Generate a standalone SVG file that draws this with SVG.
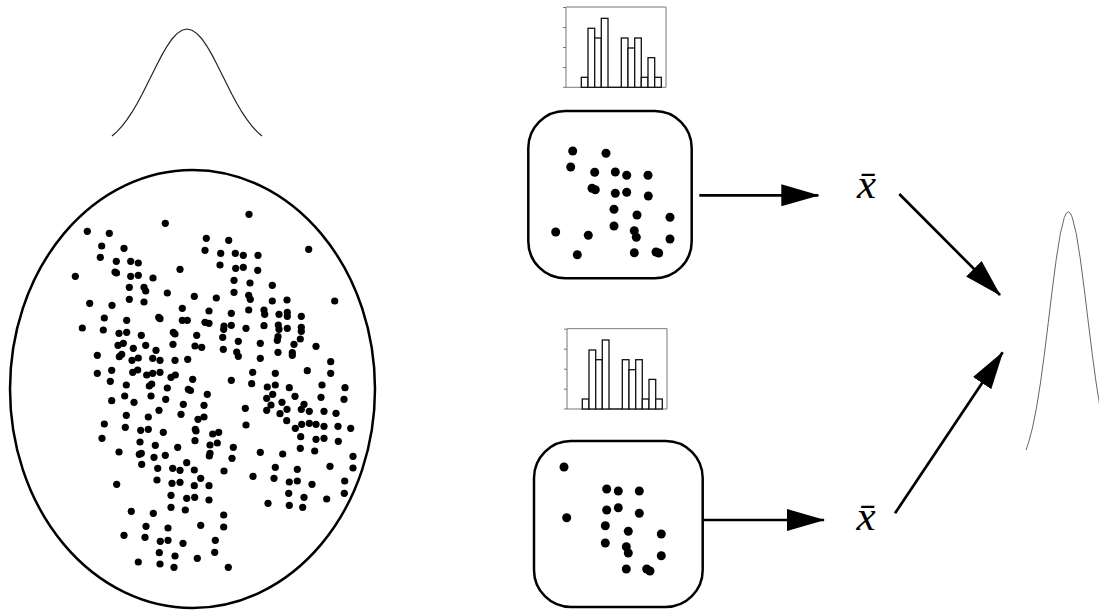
<svg xmlns="http://www.w3.org/2000/svg" xmlns:xlink="http://www.w3.org/1999/xlink" width="1099" height="612" viewBox="0 0 1099 612">
<style>
.outline{fill:none;stroke:#000;stroke-width:2.5}
.curve{fill:none;stroke:#222;stroke-width:1.2}
.curve2{fill:none;stroke:#666;stroke-width:1}
.pd circle{fill:#000}
.sd circle{fill:#000}
.bar{fill:#fff;stroke:#111;stroke-width:1.3}
.axis{fill:none;stroke:#777;stroke-width:1}
.conn{fill:none;stroke:#000;stroke-width:2.7;marker-end:url(#ah)}
.xbar{font-family:"Liberation Serif","Times New Roman",serif;font-style:italic;font-size:43px;fill:#000}
</style>
<defs>
<marker id="ah" markerUnits="userSpaceOnUse" markerWidth="38" markerHeight="22" viewBox="0 0 38 22" refX="37" refY="11" orient="auto"><path d="M0,0 L38,11 L0,22 Z" fill="#000"/></marker>
<g id="histo">
<path class="axis" d="M566,7 H666 V87.3 H566 Z"/>
<path class="axis" d="M563,7.5 H566 M563,27.5 H566 M563,47.5 H566 M563,67.5 H566 M563,87.3 H566"/>
<rect class="bar" x="581.3" y="77.3" width="6.7" height="10"/>
<rect class="bar" x="588" y="28.3" width="6.7" height="59"/>
<rect class="bar" x="594.7" y="38" width="6.6" height="49.3"/>
<rect class="bar" x="601.3" y="18.3" width="6.7" height="69"/>
<path d="M608,87.3 H621.3" stroke="#111" stroke-width="1.3"/>
<rect class="bar" x="621.3" y="38" width="6.7" height="49.3"/>
<rect class="bar" x="628" y="48" width="6.7" height="39.3"/>
<rect class="bar" x="634.7" y="38" width="6.6" height="49.3"/>
<rect class="bar" x="641.3" y="77.3" width="6.7" height="10"/>
<rect class="bar" x="648" y="57.7" width="6.7" height="29.6"/>
<rect class="bar" x="654.7" y="77.3" width="6.6" height="10"/>
</g>
</defs>
<rect width="1099" height="612" fill="#fff"/>

<g id="population-curve">
<polyline class="curve" points="112,136 117,131.6 122,126.1 127,119.7 132,112.2 137,103.8 142,94.5 147,84.6 152,74.5 157,64.4 162,54.9 167,46.3 172,39 177,33.6 182,30.2 187,29 192,30.2 197,33.6 202,39 207,46.3 212,54.9 217,64.4 222,74.5 227,84.6 232,94.5 237,103.8 242,112.2 247,119.7 252,126.1 257,131.6 262,136"/>
</g>

<g id="population">
<ellipse class="outline" cx="192.5" cy="389" rx="182.5" ry="219"/>
<g class="pd">
<circle cx="165.3" cy="223.3" r="3.6"/><circle cx="87.3" cy="231.3" r="3.6"/><circle cx="109.3" cy="233.3" r="3.6"/><circle cx="206.3" cy="238.3" r="3.6"/><circle cx="101.7" cy="246" r="3.6"/><circle cx="124" cy="248.3" r="3.6"/><circle cx="205" cy="250.3" r="3.6"/><circle cx="100.3" cy="257.3" r="3.6"/><circle cx="116.3" cy="261.3" r="3.6"/><circle cx="130.7" cy="261.3" r="3.6"/><circle cx="138.3" cy="263" r="3.6"/><circle cx="115" cy="272" r="3.6"/><circle cx="116.5" cy="273" r="3.6"/><circle cx="180" cy="269.3" r="3.6"/><circle cx="75.3" cy="276.3" r="3.6"/><circle cx="130.7" cy="276.3" r="3.6"/><circle cx="138.3" cy="275.3" r="3.6"/><circle cx="153" cy="278" r="3.6"/><circle cx="129.3" cy="287.3" r="3.6"/><circle cx="144" cy="287.3" r="3.6"/><circle cx="145.7" cy="291" r="3.6"/><circle cx="167.3" cy="293" r="3.6"/><circle cx="194.3" cy="296.3" r="3.6"/><circle cx="216.3" cy="298" r="3.6"/><circle cx="129.3" cy="299.3" r="3.6"/><circle cx="144" cy="302" r="3.6"/><circle cx="89.7" cy="303.3" r="3.6"/><circle cx="112" cy="305.3" r="3.6"/><circle cx="182.3" cy="308.3" r="3.6"/><circle cx="209" cy="311" r="3.6"/><circle cx="104.3" cy="318" r="3.6"/><circle cx="126.7" cy="320.3" r="3.6"/><circle cx="158.7" cy="317.3" r="3.6"/><circle cx="160" cy="318.7" r="3.6"/><circle cx="182.3" cy="320.3" r="3.6"/><circle cx="187.3" cy="320.3" r="3.6"/><circle cx="205" cy="322.3" r="3.6"/><circle cx="209" cy="323.3" r="3.6"/><circle cx="82.3" cy="328" r="3.6"/><circle cx="103.3" cy="330" r="3.6"/><circle cx="119" cy="333.3" r="3.6"/><circle cx="126.7" cy="332.3" r="3.6"/><circle cx="141.3" cy="335.3" r="3.6"/><circle cx="173.3" cy="332.3" r="3.6"/><circle cx="175" cy="334" r="3.6"/><circle cx="196.7" cy="335.3" r="3.6"/><circle cx="118" cy="345.3" r="3.6"/><circle cx="123.3" cy="343.3" r="3.6"/><circle cx="133.3" cy="348.3" r="3.6"/><circle cx="145.7" cy="345.3" r="3.6"/><circle cx="173" cy="344.3" r="3.6"/><circle cx="195" cy="346" r="3.6"/><circle cx="201.7" cy="347.3" r="3.6"/><circle cx="156" cy="350.3" r="3.6"/><circle cx="97.3" cy="355.3" r="3.6"/><circle cx="119.3" cy="356.7" r="3.6"/><circle cx="121.7" cy="354.3" r="3.6"/><circle cx="132" cy="360.3" r="3.6"/><circle cx="138.3" cy="358" r="3.6"/><circle cx="152.7" cy="358.3" r="3.6"/><circle cx="160" cy="360.3" r="3.6"/><circle cx="175" cy="360.3" r="3.6"/><circle cx="187.7" cy="359.3" r="3.6"/><circle cx="97.3" cy="373.3" r="3.6"/><circle cx="111.7" cy="370.3" r="3.6"/><circle cx="132.7" cy="372.3" r="3.6"/><circle cx="137.7" cy="370" r="3.6"/><circle cx="146.7" cy="375" r="3.6"/><circle cx="152.7" cy="373.3" r="3.6"/><circle cx="160" cy="372.3" r="3.6"/><circle cx="171" cy="377.3" r="3.6"/><circle cx="175.3" cy="375" r="3.6"/><circle cx="192.7" cy="379.3" r="3.6"/><circle cx="110.3" cy="381.3" r="3.6"/><circle cx="126.3" cy="385" r="3.6"/><circle cx="149.3" cy="386" r="3.6"/><circle cx="151.7" cy="384" r="3.6"/><circle cx="167.3" cy="388" r="3.6"/><circle cx="188.3" cy="389.3" r="3.6"/><circle cx="190.5" cy="390.5" r="3.6"/>
<circle cx="249" cy="214.3" r="3.6"/><circle cx="228.7" cy="240.3" r="3.6"/><circle cx="220.7" cy="253.3" r="3.6"/><circle cx="235.3" cy="253.3" r="3.6"/><circle cx="243.3" cy="255.3" r="3.6"/><circle cx="258" cy="255.3" r="3.6"/><circle cx="308.7" cy="249.3" r="3.6"/><circle cx="220" cy="265" r="3.6"/><circle cx="235.7" cy="268.3" r="3.6"/><circle cx="243.3" cy="267.3" r="3.6"/><circle cx="257.7" cy="270.3" r="3.6"/><circle cx="234" cy="280.3" r="3.6"/><circle cx="250" cy="283" r="3.6"/><circle cx="272.3" cy="285.3" r="3.6"/><circle cx="234" cy="292.3" r="3.6"/><circle cx="248.7" cy="295.3" r="3.6"/><circle cx="250.3" cy="299.3" r="3.6"/><circle cx="272.3" cy="301" r="3.6"/><circle cx="287" cy="300" r="3.6"/><circle cx="334.7" cy="301" r="3.6"/><circle cx="231.3" cy="313.3" r="3.6"/><circle cx="248.7" cy="310" r="3.6"/><circle cx="264" cy="310" r="3.6"/><circle cx="264.7" cy="314.3" r="3.6"/><circle cx="279" cy="314.3" r="3.6"/><circle cx="287.3" cy="312.3" r="3.6"/><circle cx="287.3" cy="316.3" r="3.6"/><circle cx="301.3" cy="316.3" r="3.6"/><circle cx="224" cy="326" r="3.6"/><circle cx="223.7" cy="329.3" r="3.6"/><circle cx="231.3" cy="325.3" r="3.6"/><circle cx="246" cy="328.3" r="3.6"/><circle cx="264" cy="325.7" r="3.6"/><circle cx="278.3" cy="325" r="3.6"/><circle cx="279" cy="329.3" r="3.6"/><circle cx="287.3" cy="328.3" r="3.6"/><circle cx="301.3" cy="327.3" r="3.6"/><circle cx="301.3" cy="331.3" r="3.6"/><circle cx="222.7" cy="337.3" r="3.6"/><circle cx="238.3" cy="341.3" r="3.6"/><circle cx="260.3" cy="343.3" r="3.6"/><circle cx="278" cy="336.7" r="3.6"/><circle cx="277.3" cy="340.3" r="3.6"/><circle cx="300.3" cy="339" r="3.6"/><circle cx="294" cy="344.3" r="3.6"/><circle cx="316" cy="346.3" r="3.6"/><circle cx="223.3" cy="349.3" r="3.6"/><circle cx="236.7" cy="352" r="3.6"/><circle cx="238.3" cy="356.3" r="3.6"/><circle cx="278" cy="352.3" r="3.6"/><circle cx="292.3" cy="352.7" r="3.6"/><circle cx="292.3" cy="355.3" r="3.6"/><circle cx="260.3" cy="358.3" r="3.6"/><circle cx="330.7" cy="361.7" r="3.6"/><circle cx="252.7" cy="372.3" r="3.6"/><circle cx="275.3" cy="373.3" r="3.6"/><circle cx="307.3" cy="370.7" r="3.6"/><circle cx="330.7" cy="373.3" r="3.6"/><circle cx="231.3" cy="380.3" r="3.6"/><circle cx="251.7" cy="383.7" r="3.6"/><circle cx="267.3" cy="387" r="3.6"/><circle cx="275.3" cy="385" r="3.6"/><circle cx="289.3" cy="387.7" r="3.6"/><circle cx="322" cy="385" r="3.6"/><circle cx="345" cy="387.7" r="3.6"/>
<circle cx="111.7" cy="400.7" r="3.6"/><circle cx="124.7" cy="396" r="3.6"/><circle cx="134" cy="402.3" r="3.6"/><circle cx="151" cy="396" r="3.6"/><circle cx="165.7" cy="399.3" r="3.6"/><circle cx="207.3" cy="394.3" r="3.6"/><circle cx="183.3" cy="404.3" r="3.6"/><circle cx="204" cy="405.3" r="3.6"/><circle cx="159" cy="410.3" r="3.6"/><circle cx="126.3" cy="415.3" r="3.6"/><circle cx="148.3" cy="417" r="3.6"/><circle cx="181" cy="414.3" r="3.6"/><circle cx="198" cy="419.3" r="3.6"/><circle cx="204" cy="417" r="3.6"/><circle cx="104.3" cy="424" r="3.6"/><circle cx="125.3" cy="427.3" r="3.6"/><circle cx="140.7" cy="430.3" r="3.6"/><circle cx="148.3" cy="429.3" r="3.6"/><circle cx="163.3" cy="432.3" r="3.6"/><circle cx="195.3" cy="429.3" r="3.6"/><circle cx="196" cy="431" r="3.6"/><circle cx="212.7" cy="434" r="3.6"/><circle cx="218.7" cy="432.3" r="3.6"/><circle cx="102" cy="438.3" r="3.6"/><circle cx="140" cy="442" r="3.6"/><circle cx="155.3" cy="445.3" r="3.6"/><circle cx="195" cy="440.7" r="3.6"/><circle cx="210" cy="445" r="3.6"/><circle cx="217.3" cy="443" r="3.6"/><circle cx="119" cy="452" r="3.6"/><circle cx="141.3" cy="453.3" r="3.6"/><circle cx="139.3" cy="454.3" r="3.6"/><circle cx="154" cy="457.3" r="3.6"/><circle cx="165.3" cy="455.3" r="3.6"/><circle cx="177.7" cy="447.3" r="3.6"/><circle cx="209.3" cy="456" r="3.6"/><circle cx="210" cy="453.3" r="3.6"/><circle cx="141.7" cy="464.3" r="3.6"/><circle cx="157.7" cy="468.3" r="3.6"/><circle cx="172.7" cy="468.3" r="3.6"/><circle cx="180" cy="470.3" r="3.6"/><circle cx="186.7" cy="462.7" r="3.6"/><circle cx="194.3" cy="470" r="3.6"/><circle cx="224" cy="471" r="3.6"/><circle cx="157" cy="480" r="3.6"/><circle cx="172" cy="483.3" r="3.6"/><circle cx="180" cy="482.3" r="3.6"/><circle cx="200.7" cy="478.3" r="3.6"/><circle cx="194.3" cy="485.7" r="3.6"/><circle cx="209" cy="485.7" r="3.6"/><circle cx="116.7" cy="484.3" r="3.6"/><circle cx="171" cy="495.3" r="3.6"/><circle cx="186.7" cy="498.3" r="3.6"/><circle cx="194.7" cy="497.3" r="3.6"/><circle cx="209" cy="500" r="3.6"/><circle cx="171" cy="507.3" r="3.6"/><circle cx="185.3" cy="510" r="3.6"/><circle cx="131.3" cy="511.3" r="3.6"/><circle cx="153.3" cy="513.3" r="3.6"/><circle cx="223.7" cy="515" r="3.6"/><circle cx="146" cy="526.3" r="3.6"/><circle cx="168" cy="528" r="3.6"/><circle cx="200.7" cy="525.3" r="3.6"/><circle cx="223.7" cy="527" r="3.6"/><circle cx="124" cy="535.3" r="3.6"/><circle cx="145" cy="537.3" r="3.6"/><circle cx="160.3" cy="541.3" r="3.6"/><circle cx="168" cy="540.3" r="3.6"/><circle cx="183" cy="543.3" r="3.6"/><circle cx="215.3" cy="540.3" r="3.6"/><circle cx="159.3" cy="552.7" r="3.6"/><circle cx="175" cy="556" r="3.6"/><circle cx="197.3" cy="558.3" r="3.6"/><circle cx="214.7" cy="552.3" r="3.6"/><circle cx="138.3" cy="562" r="3.6"/><circle cx="160" cy="564" r="3.6"/><circle cx="174" cy="567.3" r="3.6"/><circle cx="228.3" cy="567.3" r="3.6"/>
<circle cx="272.7" cy="394.3" r="3.6"/><circle cx="266.7" cy="398.3" r="3.6"/><circle cx="295" cy="396.3" r="3.6"/><circle cx="321" cy="397.3" r="3.6"/><circle cx="344" cy="399.3" r="3.6"/><circle cx="245.3" cy="408.3" r="3.6"/><circle cx="271" cy="405" r="3.6"/><circle cx="282" cy="402.3" r="3.6"/><circle cx="304" cy="404.3" r="3.6"/><circle cx="266.7" cy="410.3" r="3.6"/><circle cx="280" cy="413.7" r="3.6"/><circle cx="287" cy="409.3" r="3.6"/><circle cx="301.3" cy="409.3" r="3.6"/><circle cx="309.3" cy="411.3" r="3.6"/><circle cx="324" cy="411.3" r="3.6"/><circle cx="336" cy="413.3" r="3.6"/><circle cx="286.7" cy="420.7" r="3.6"/><circle cx="246" cy="425" r="3.6"/><circle cx="301.7" cy="424.3" r="3.6"/><circle cx="309.3" cy="423.3" r="3.6"/><circle cx="316" cy="424.3" r="3.6"/><circle cx="324" cy="426.3" r="3.6"/><circle cx="338" cy="426.3" r="3.6"/><circle cx="350.7" cy="428.3" r="3.6"/><circle cx="295.3" cy="428.3" r="3.6"/><circle cx="300.7" cy="436.7" r="3.6"/><circle cx="316" cy="439.3" r="3.6"/><circle cx="324" cy="438.3" r="3.6"/><circle cx="338.3" cy="441.3" r="3.6"/><circle cx="233.3" cy="447.3" r="3.6"/><circle cx="232" cy="458.3" r="3.6"/><circle cx="260.3" cy="452.3" r="3.6"/><circle cx="282.7" cy="454" r="3.6"/><circle cx="300.3" cy="448.3" r="3.6"/><circle cx="314.7" cy="451" r="3.6"/><circle cx="353" cy="456.3" r="3.6"/><circle cx="253" cy="476.3" r="3.6"/><circle cx="275.3" cy="467.3" r="3.6"/><circle cx="274" cy="478.3" r="3.6"/><circle cx="297.3" cy="469.3" r="3.6"/><circle cx="289.3" cy="482" r="3.6"/><circle cx="297.3" cy="481" r="3.6"/><circle cx="312" cy="484.3" r="3.6"/><circle cx="330" cy="466.3" r="3.6"/><circle cx="353" cy="468" r="3.6"/><circle cx="344.7" cy="481" r="3.6"/><circle cx="288.7" cy="493.3" r="3.6"/><circle cx="304" cy="497.3" r="3.6"/><circle cx="326.7" cy="499" r="3.6"/><circle cx="344.3" cy="493.3" r="3.6"/><circle cx="268" cy="503.3" r="3.6"/><circle cx="289.3" cy="505.3" r="3.6"/><circle cx="302.7" cy="507.3" r="3.6"/>
</g>
</g>

<g id="histogram-1"><use xlink:href="#histo" href="#histo"/></g>

<g id="sample-1">
<rect class="outline" x="528.3" y="111" width="163.4" height="167.3" rx="37" ry="37"/>
<g class="sd">
<circle cx="572.7" cy="151" r="4.5"/><circle cx="606" cy="153.3" r="4.5"/><circle cx="570.7" cy="167" r="4.5"/><circle cx="594.7" cy="172.3" r="4.5"/><circle cx="615.3" cy="172" r="4.5"/><circle cx="626.7" cy="175.3" r="4.5"/><circle cx="648" cy="175.3" r="4.5"/><circle cx="592" cy="188.3" r="4.5"/><circle cx="595.3" cy="189.7" r="4.5"/><circle cx="615.3" cy="193.3" r="4.5"/><circle cx="626.7" cy="192.3" r="4.5"/><circle cx="648.3" cy="196" r="4.5"/><circle cx="614" cy="209.3" r="4.5"/><circle cx="637" cy="215" r="4.5"/><circle cx="670" cy="217.3" r="4.5"/><circle cx="555.7" cy="232" r="4.5"/><circle cx="588.3" cy="235.3" r="4.5"/><circle cx="614" cy="226" r="4.5"/><circle cx="634.3" cy="230.7" r="4.5"/><circle cx="636.3" cy="237.3" r="4.5"/><circle cx="670" cy="239" r="4.5"/><circle cx="577.3" cy="254.7" r="4.5"/><circle cx="634.3" cy="252.7" r="4.5"/><circle cx="656" cy="252" r="4.5"/><circle cx="658.7" cy="253" r="4.5"/>
</g>
</g>

<g id="mean-1"><text class="xbar" x="857" y="198.3">x&#772;</text></g>

<g id="histogram-2"><use xlink:href="#histo" href="#histo" transform="translate(1,321.7)"/></g>

<g id="sample-2">
<rect class="outline" x="534" y="441" width="168.7" height="166" rx="37" ry="37"/>
<g class="sd">
<circle cx="564" cy="467" r="4.5"/><circle cx="606.7" cy="489" r="4.5"/><circle cx="618.3" cy="491" r="4.5"/><circle cx="639.3" cy="491" r="4.5"/><circle cx="566.7" cy="517.7" r="4.5"/><circle cx="606.7" cy="510" r="4.5"/><circle cx="618.3" cy="507.7" r="4.5"/><circle cx="639.3" cy="513.3" r="4.5"/><circle cx="605.3" cy="525.7" r="4.5"/><circle cx="628.3" cy="531.3" r="4.5"/><circle cx="661.3" cy="534" r="4.5"/><circle cx="605.3" cy="543" r="4.5"/><circle cx="626.3" cy="546.7" r="4.5"/><circle cx="628.3" cy="553" r="4.5"/><circle cx="661.3" cy="555.7" r="4.5"/><circle cx="626.3" cy="569" r="4.5"/><circle cx="646.7" cy="569" r="4.5"/><circle cx="650" cy="571" r="4.5"/>
</g>
</g>

<g id="mean-2"><text class="xbar" x="856.5" y="530">x&#772;</text></g>

<g id="sampling-distribution">
<polyline class="curve2" points="1026,450 1028.3,443.5 1032.3,428.6 1036.3,408.9 1040.3,384 1044.3,354.7 1048.3,322.4 1052.3,289.4 1056.3,258.8 1060.3,233.9 1064.3,217.5 1066.3,213.2 1068.3,211.8 1070.3,213.2 1072.3,217.5 1076.3,233.9 1080.3,258.8 1084.3,289.4 1088.3,322.4 1092.3,354.7 1096.3,384 1100.3,408.9"/>
</g>

<g id="connectors">
<path class="conn" d="M699.3,195.3 L818.3,195.3"/>
<path class="conn" d="M704,520 L824,520"/>
<path class="conn" d="M899.3,194 L1000,295"/>
<path class="conn" d="M895,513.3 L1002.7,352.3"/>
</g>
</svg>
